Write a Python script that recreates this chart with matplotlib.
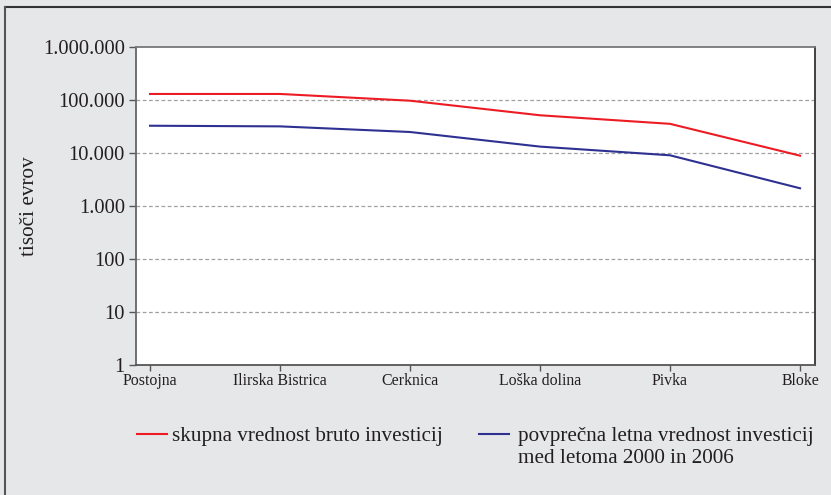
import matplotlib.pyplot as plt
from matplotlib.lines import Line2D
from matplotlib.ticker import FixedLocator, FuncFormatter, NullLocator

plt.rcParams['font.family'] = ['Liberation Serif', 'DejaVu Serif']

municipalities = ['Postojna', 'Ilirska Bistrica', 'Cerknica', 'Loška dolina', 'Pivka', 'Bloke']
total_gross = [130000, 130000, 97000, 51500, 35500, 8900]
avg_yearly = [32700, 31800, 24900, 13200, 9050, 2160]

label_total = 'skupna vrednost bruto investicij'
label_avg = 'povprečna letna vrednost investicij\nmed letoma 2000 in 2006'

red = '#ed1c24'
blue = '#2e3192'
ink = '#231f20'
bg = '#e6e7e8'

fig = plt.figure(figsize=(8.31, 4.95), dpi=100, facecolor=bg)
ax = fig.add_axes([136 / 831, 130 / 495, 679 / 831, 318 / 495])
ax.set_facecolor('white')

x = list(range(len(municipalities)))
ax.plot(x, total_gross, color=red, lw=1.5)
ax.plot(x, avg_yearly, color=blue, lw=1.5)

ax.set_yscale('log')
ax.set_ylim(1, 1e6)
ax.set_xlim(-0.108, 5.115)
ax.yaxis.set_major_locator(FixedLocator([1, 10, 100, 1e3, 1e4, 1e5, 1e6]))
ax.yaxis.set_minor_locator(NullLocator())
ax.yaxis.set_major_formatter(FuncFormatter(lambda v, p: f'{int(round(v)):,}'.replace(',', '.')))
ax.set_xticks(x)
ax.set_xticklabels(municipalities)

for v in [10, 100, 1e3, 1e4, 1e5]:
    ax.axhline(v, color='#a0a0a0', lw=0.9, ls=(0, (3, 2)), zorder=0)

for side, col in [('left', '#666666'), ('bottom', '#555555'), ('top', '#777777'), ('right', '#333333')]:
    ax.spines[side].set_color(col)
    ax.spines[side].set_linewidth(1.3)

ax.tick_params(axis='y', direction='out', length=5, width=1, color='#555555',
               labelsize=14.8, pad=3, labelcolor=ink)
ax.tick_params(axis='x', direction='out', length=4, width=1, color='#555555',
               labelsize=11.4, pad=2, labelcolor=ink)
ax.set_ylabel('tisoči evrov', fontsize=15.3, color=ink, labelpad=3)

# legend below the plot, drawn by hand so the two-line entry lines up on its first line
def fx(px):
    return px / 831

def fy(px):
    return 1 - px / 495

fig.add_artist(Line2D([fx(137), fx(167)], [fy(434)] * 2, color=red, lw=1.5))
fig.text(fx(172), fy(441), label_total, fontsize=15.2, color=ink, va='baseline')
fig.add_artist(Line2D([fx(479), fx(509)], [fy(434)] * 2, color=blue, lw=1.5))
# baseline alignment of a multi-line text uses its last line
fig.text(fx(518), fy(463), label_avg, fontsize=15.2, color=ink, va='baseline', linespacing=1.2)

# outer frame, top and left edges
fig.add_artist(Line2D([fx(5), 1], [fy(7)] * 2, color='#333333', lw=1.5))
fig.add_artist(Line2D([fx(5)] * 2, [0, fy(7)], color='#555555', lw=1.5))

fig.savefig('out.png', dpi=100, facecolor=bg)
